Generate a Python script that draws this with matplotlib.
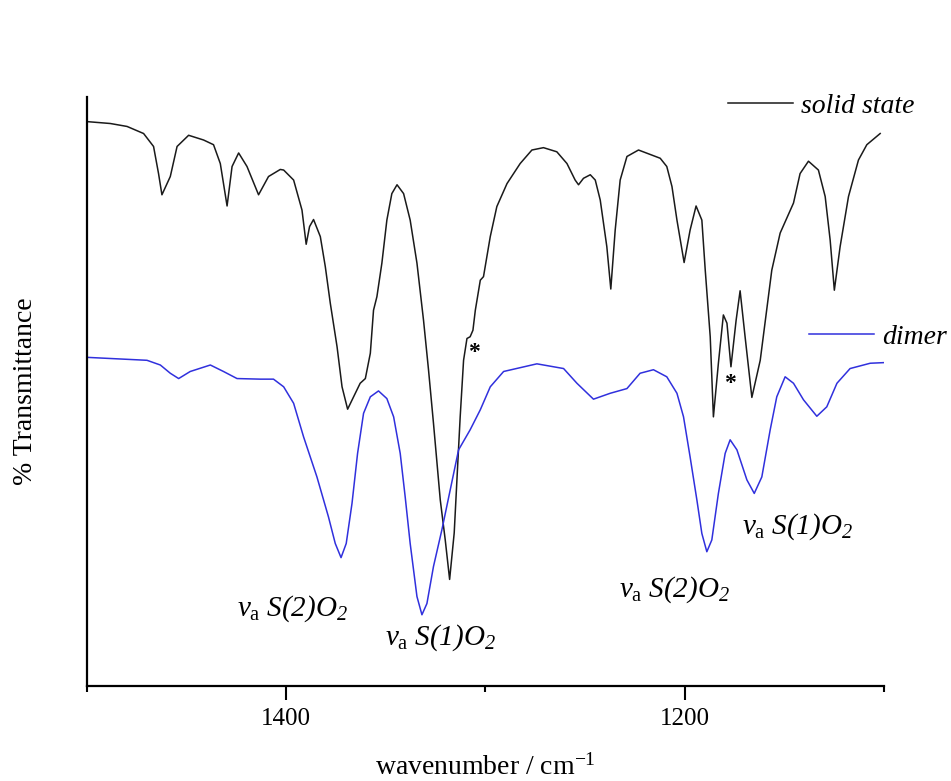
"""IR spectra of the solid state sample and the dimer in the SO2 stretching region."""

from matplotlib import pyplot as plt

plt.rcParams["font.family"] = ["Liberation Serif", "DejaVu Serif"]
plt.rcParams["mathtext.fontset"] = "custom"
plt.rcParams["mathtext.rm"] = "Liberation Serif:italic"
plt.rcParams["mathtext.it"] = "Liberation Serif:italic"
plt.rcParams["mathtext.sf"] = "Liberation Serif"

# solid state spectrum (wavenumber / cm-1, % transmittance, arbitrary offset)
solid_wn = [1499.2, 1488.3, 1479.9, 1471.6, 1466.6, 1464.1, 1462.4, 1458.2, 1454.8, 1449.0,
            1441.5, 1436.5, 1433.1, 1429.7, 1427.2, 1423.9, 1419.7, 1413.9, 1408.9, 1403.0,
            1401.3, 1396.3, 1392.1, 1390.0, 1388.3, 1386.3, 1382.9, 1380.4, 1377.9, 1374.5,
            1372.0, 1369.2, 1366.2, 1362.9, 1360.3, 1357.8, 1356.2, 1354.5, 1352.0, 1349.5,
            1347.0, 1344.4, 1341.1, 1337.8, 1334.4, 1331.1, 1328.6, 1326.1, 1322.7, 1320.2,
            1318.0, 1315.7, 1314.0, 1312.7, 1311.0, 1309.3, 1307.7, 1306.3, 1305.1, 1302.6,
            1301.0, 1297.6, 1294.3, 1289.2, 1282.6, 1276.7, 1270.9, 1264.2, 1259.1, 1255.0,
            1253.3, 1250.8, 1247.4, 1244.9, 1242.4, 1239.1, 1237.1, 1234.9, 1232.4, 1229.0,
            1223.2, 1212.3, 1209.0, 1206.4, 1203.9, 1200.3, 1197.3, 1194.3, 1191.4, 1189.7,
            1187.2, 1185.6, 1183.1, 1180.6, 1178.8, 1176.8, 1174.2, 1172.2, 1169.7, 1166.3,
            1162.1, 1156.3, 1152.1, 1145.4, 1142.1, 1137.9, 1132.9, 1129.5, 1127.0, 1124.9,
            1122.0, 1117.8, 1112.8, 1108.6, 1101.9]
solid_t = [95.8, 95.5, 95.0, 93.8, 91.6, 87.0, 83.4, 86.5, 91.6, 93.5,
           92.7, 91.9, 88.7, 81.5, 88.2, 90.5, 88.2, 83.4, 86.5, 87.7,
           87.6, 85.9, 80.8, 75.0, 78.0, 79.2, 76.3, 71.2, 65.0, 57.6,
           50.8, 47.0, 49.1, 51.4, 52.2, 56.5, 63.8, 66.1, 71.8, 79.1,
           83.6, 85.1, 83.6, 79.1, 71.8, 62.1, 53.7, 44.6, 31.6, 24.8,
           18.1, 26.0, 37.2, 45.7, 55.3, 59.0, 59.3, 60.4, 63.8, 68.9,
           69.5, 76.3, 81.4, 85.3, 88.7, 91.0, 91.4, 90.7, 88.7, 85.9,
           85.1, 86.2, 86.8, 85.9, 82.5, 74.6, 67.4, 77.4, 85.9, 89.9,
           91.0, 89.6, 88.2, 84.8, 79.1, 71.9, 77.4, 81.5, 79.1, 70.6,
           59.3, 45.7, 54.8, 63.0, 61.6, 54.2, 62.1, 67.1, 59.3, 49.0,
           55.3, 70.6, 76.9, 82.0, 87.0, 89.1, 87.6, 83.1, 75.7, 67.2,
           74.6, 83.1, 89.3, 91.9, 93.8]

# dimer spectrum
dimer_wn = [1500.0, 1469.9, 1463.2, 1458.2, 1454.0, 1448.2, 1438.1, 1431.5, 1424.7, 1413.0,
            1406.4, 1401.3, 1396.3, 1391.3, 1384.6, 1378.8, 1375.4, 1372.5, 1369.9, 1367.0,
            1364.2, 1361.2, 1357.8, 1353.7, 1349.5, 1346.1, 1342.8, 1340.3, 1337.8, 1334.4,
            1331.9, 1329.4, 1326.1, 1321.9, 1317.7, 1313.5, 1307.7, 1302.6, 1297.6, 1290.9,
            1274.2, 1260.8, 1254.1, 1245.8, 1237.4, 1229.0, 1222.4, 1215.7, 1209.0, 1203.9,
            1200.6, 1197.3, 1193.9, 1191.4, 1188.9, 1186.4, 1183.1, 1179.7, 1177.2, 1173.8,
            1168.8, 1165.1, 1161.3, 1157.1, 1153.8, 1149.6, 1145.4, 1140.4, 1133.7, 1128.7,
            1123.6, 1117.0, 1106.9, 1100.3]
dimer_t = [55.8, 55.3, 54.5, 53.1, 52.2, 53.4, 54.5, 53.4, 52.2, 52.1,
           52.1, 50.8, 48.0, 42.3, 35.5, 28.7, 24.2, 21.8, 24.2, 31.0,
           39.5, 46.3, 49.1, 50.1, 48.8, 45.7, 39.5, 32.1, 24.2, 15.2,
           12.1, 14.0, 20.3, 26.5, 33.3, 40.1, 43.5, 46.9, 50.8, 53.4,
           54.7, 53.9, 51.4, 48.7, 49.7, 50.5, 53.1, 53.7, 52.5, 49.7,
           45.7, 38.9, 31.6, 25.9, 22.8, 24.8, 32.7, 39.5, 41.8, 40.1,
           35.0, 32.7, 35.5, 43.5, 49.1, 52.5, 51.4, 48.6, 45.8, 47.4,
           51.4, 53.9, 54.8, 54.9]

# band assignments (label, wavenumber, transmittance)
band_labels = [r"$\nu_{\mathsf{a}}\ S(2)O_2$", r"$\nu_{\mathsf{a}}\ S(1)O_2$",
               r"$\nu_{\mathsf{a}}\ S(2)O_2$", r"$\nu_{\mathsf{a}}\ S(1)O_2$"]
band_wn = [1424.6, 1350.3, 1233.2, 1171.3]
band_t = [11.9, 7.0, 15.2, 25.9]

# asterisks marking shoulders of the solid state spectrum
star_wn = [1306.0, 1177.2]
star_t = [56.7, 51.4]

fig, ax = plt.subplots(figsize=(9.51, 7.81), dpi=100)
fig.subplots_adjust(left=0.0915, right=0.9295, bottom=0.1216, top=0.8758)

(solid_line,) = ax.plot(solid_wn, solid_t, color="#1a1a1a", lw=1.1, solid_joinstyle="round")
(dimer_line,) = ax.plot(dimer_wn, dimer_t, color="#3030dd", lw=1.1, solid_joinstyle="round")

for label, w, t in zip(band_labels, band_wn, band_t):
    ax.text(w, t, label, fontsize=21, ha="left", va="baseline")

for w, t in zip(star_wn, star_t):
    ax.text(w, t, "*", fontsize=17, fontweight="bold", ha="center", va="center")

ax.set_xlim(1500, 1100)
ax.set_ylim(0, 100)
ax.set_xticks([1400, 1200])
ax.set_xticks([1500, 1300, 1100], minor=True)
ax.set_yticks([])
ax.tick_params(axis="x", which="major", length=10, width=1.5, direction="out",
               labelsize=18, pad=6)
ax.tick_params(axis="x", which="minor", length=4, width=1.5, direction="out")

for side in ["top", "right"]:
    ax.spines[side].set_visible(False)
for side in ["left", "bottom"]:
    ax.spines[side].set_linewidth(1.6)

ax.set_xlabel(r"wavenumber / cm$^{\mathsf{-1}}$", fontsize=20, labelpad=17)
ax.set_ylabel("% Transmittance", fontsize=20, labelpad=35)

# two separate legend entries, placed next to their curves
leg_kw = dict(frameon=False, handlelength=2.34, handletextpad=0.3,
              borderpad=0, borderaxespad=0, loc="center left",
              prop={"style": "italic", "size": 20})
leg1 = ax.legend([solid_line], ["solid state"], bbox_to_anchor=(0.804, 0.985), **leg_kw)
ax.add_artist(leg1)
ax.legend([dimer_line], ["dimer"], bbox_to_anchor=(0.906, 0.592), **leg_kw)

fig.savefig("out.png", dpi=100, facecolor="white")
